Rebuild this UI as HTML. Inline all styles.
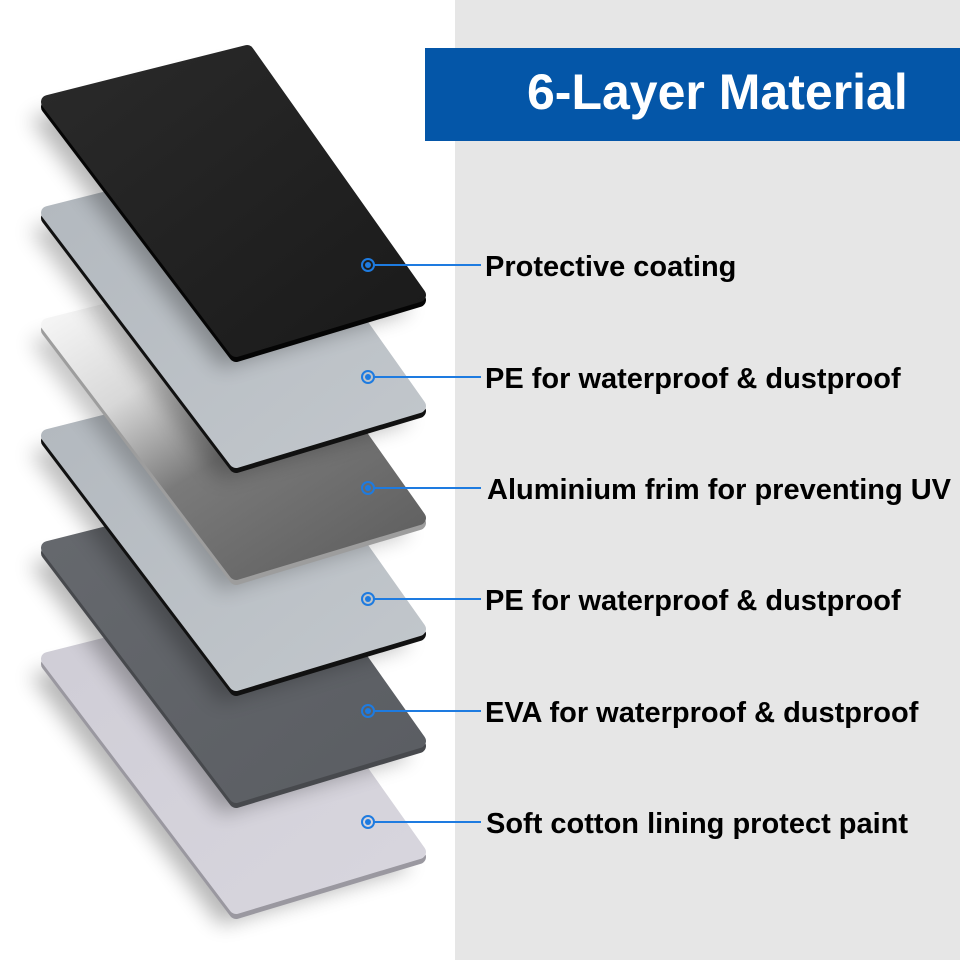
<!DOCTYPE html>
<html><head><meta charset="utf-8"><style>
html,body{margin:0;padding:0;background:#fff;}
svg{display:block;}
</style></head><body>
<svg width="960" height="960" viewBox="0 0 960 960" xmlns="http://www.w3.org/2000/svg">
<defs>
<filter id="sh" x="-30%" y="-30%" width="160%" height="160%"><feGaussianBlur stdDeviation="10"/></filter>
<linearGradient id="g1" x1="0" y1="0" x2="1" y2="1"><stop offset="0" stop-color="#2a2a2a"/><stop offset="1" stop-color="#1a1a1a"/></linearGradient>
<linearGradient id="g2" x1="0" y1="0" x2="1" y2="1"><stop offset="0" stop-color="#b2b8be"/><stop offset="1" stop-color="#c2c7cc"/></linearGradient>
<linearGradient id="g3" x1="0" y1="0" x2="0.8" y2="1"><stop offset="0" stop-color="#ffffff"/><stop offset="0.35" stop-color="#d8d8d8"/><stop offset="0.6" stop-color="#7a7a7a"/><stop offset="1" stop-color="#626262"/></linearGradient>
<linearGradient id="g5" x1="0" y1="0" x2="1" y2="1"><stop offset="0" stop-color="#66696e"/><stop offset="1" stop-color="#5a5d62"/></linearGradient>
<linearGradient id="g6" x1="0" y1="0" x2="1" y2="1"><stop offset="0" stop-color="#cfcdd6"/><stop offset="1" stop-color="#d8d6de"/></linearGradient>
</defs>
<rect x="455" y="0" width="505" height="960" fill="#e6e6e6"/>

<g stroke-linejoin="round">
  <g transform="translate(0,557)">
    <polygon points="30,118 234,66 410,311 220,368" fill="#000" opacity="0.28" filter="url(#sh)"/>
    <polygon points="48,107 247,57 419,300 236,355" fill="#9a98a0" stroke="#9a98a0" stroke-width="14"/>
    <polygon points="48,102 247,52 419,295 236,350" fill="url(#g6)" stroke="url(#g6)" stroke-width="14"/>
  </g>
  <g transform="translate(0,446)">
    <polygon points="30,118 234,66 410,311 220,368" fill="#000" opacity="0.28" filter="url(#sh)"/>
    <polygon points="48,107 247,57 419,300 236,355" fill="#47494d" stroke="#47494d" stroke-width="14"/>
    <polygon points="48,102 247,52 419,295 236,350" fill="url(#g5)" stroke="url(#g5)" stroke-width="14"/>
  </g>
  <g transform="translate(0,334)">
    <polygon points="30,118 234,66 410,311 220,368" fill="#000" opacity="0.25" filter="url(#sh)"/>
    <polygon points="48,107 247,57 419,300 236,355" fill="#111" stroke="#111" stroke-width="14"/>
    <polygon points="48,102 247,52 419,295 236,350" fill="url(#g2)" stroke="url(#g2)" stroke-width="14"/>
  </g>
  <g transform="translate(0,223)">
    <polygon points="30,118 234,66 410,311 220,368" fill="#000" opacity="0.22" filter="url(#sh)"/>
    <polygon points="48,107 247,57 419,300 236,355" fill="#9d9d9d" stroke="#9d9d9d" stroke-width="14"/>
    <polygon points="48,102 247,52 419,295 236,350" fill="url(#g3)" stroke="url(#g3)" stroke-width="14"/>
  </g>
  <g transform="translate(0,111)">
    <polygon points="30,118 234,66 410,311 220,368" fill="#000" opacity="0.25" filter="url(#sh)"/>
    <polygon points="48,107 247,57 419,300 236,355" fill="#111" stroke="#111" stroke-width="14"/>
    <polygon points="48,102 247,52 419,295 236,350" fill="url(#g2)" stroke="url(#g2)" stroke-width="14"/>
  </g>
  <g>
    <polygon points="30,118 234,66 410,311 220,368" fill="#000" opacity="0.28" filter="url(#sh)"/>
    <polygon points="48,107 247,57 419,300 236,355" fill="#050505" stroke="#050505" stroke-width="14"/>
    <polygon points="48,102 247,52 419,295 236,350" fill="url(#g1)" stroke="url(#g1)" stroke-width="14"/>
  </g>
</g>

<rect x="425" y="48" width="535" height="93" fill="#0456a8"/>
<text x="527" y="109" font-family="Liberation Sans, sans-serif" font-weight="bold" font-size="50" fill="#fff">6-Layer Material</text>

<g stroke="#1e7be0" fill="none">
  <g transform="translate(0,265)"><circle cx="368" cy="0" r="6" stroke-width="2"/><circle cx="368" cy="0" r="3" fill="#1e7be0" stroke="none"/><line x1="374" y1="0" x2="481" y2="0" stroke-width="2"/></g>
  <g transform="translate(0,377)"><circle cx="368" cy="0" r="6" stroke-width="2"/><circle cx="368" cy="0" r="3" fill="#1e7be0" stroke="none"/><line x1="374" y1="0" x2="481" y2="0" stroke-width="2"/></g>
  <g transform="translate(0,488)"><circle cx="368" cy="0" r="6" stroke-width="2"/><circle cx="368" cy="0" r="3" fill="#1e7be0" stroke="none"/><line x1="374" y1="0" x2="481" y2="0" stroke-width="2"/></g>
  <g transform="translate(0,599)"><circle cx="368" cy="0" r="6" stroke-width="2"/><circle cx="368" cy="0" r="3" fill="#1e7be0" stroke="none"/><line x1="374" y1="0" x2="481" y2="0" stroke-width="2"/></g>
  <g transform="translate(0,711)"><circle cx="368" cy="0" r="6" stroke-width="2"/><circle cx="368" cy="0" r="3" fill="#1e7be0" stroke="none"/><line x1="374" y1="0" x2="481" y2="0" stroke-width="2"/></g>
  <g transform="translate(0,822)"><circle cx="368" cy="0" r="6" stroke-width="2"/><circle cx="368" cy="0" r="3" fill="#1e7be0" stroke="none"/><line x1="374" y1="0" x2="481" y2="0" stroke-width="2"/></g>
</g>

<g font-family="Liberation Sans, sans-serif" font-weight="bold" font-size="29" fill="#000">
  <text x="485" y="276">Protective coating</text>
  <text x="485" y="388">PE for waterproof &amp; dustproof</text>
  <text x="487" y="499">Aluminium frim for preventing UV</text>
  <text x="485" y="610">PE for waterproof &amp; dustproof</text>
  <text x="485" y="722">EVA for waterproof &amp; dustproof</text>
  <text x="486" y="833">Soft cotton lining protect paint</text>
</g>
</svg>
</body></html>
